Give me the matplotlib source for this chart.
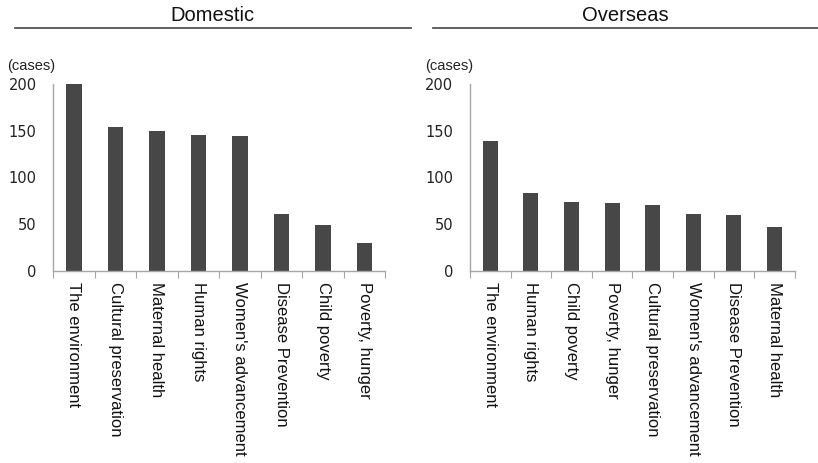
import matplotlib
matplotlib.use("Agg")
import matplotlib.pyplot as plt
from matplotlib.lines import Line2D

domestic_labels = ["The environment", "Cultural preservation", "Maternal health", "Human rights",
                   "Women's advancement", "Disease Prevention", "Child poverty", "Poverty, hunger"]
domestic_cases = [200, 154, 150, 145, 144, 61, 49, 30]

overseas_labels = ["The environment", "Human rights", "Child poverty", "Poverty, hunger",
                   "Cultural preservation", "Women's advancement", "Disease Prevention", "Maternal health"]
overseas_cases = [139, 83, 74, 73, 70, 61, 60, 47]

yticks = [0, 50, 100, 150, 200]
BAR = "#474747"
SPINE = "#a6a6a6"

fig = plt.figure(figsize=(8.18, 4.63), dpi=100)


def panel(rect, title, labels, values, line_x):
    ax = fig.add_axes(rect)
    x = range(len(values))
    ax.bar(x, values, width=0.37, color=BAR, edgecolor="none")
    ax.set_xlim(-0.5, len(values) - 0.5)
    ax.set_ylim(0, 200)
    ax.set_yticks(yticks)
    ax.set_yticklabels([str(t) for t in yticks], fontsize=10.5, family="DejaVu Sans", color="#222222")
    ax.tick_params(axis="y", length=0, pad=12)
    # category boundaries carry the x ticks; labels sit on minor ticks at bar centres
    ax.set_xticks([i - 0.5 for i in range(len(values) + 1)])
    ax.set_xticklabels([])
    ax.tick_params(axis="x", which="major", length=5, color=SPINE, direction="out")
    ax.set_xticks(list(x), minor=True)
    ax.set_xticklabels(labels, minor=True, rotation=270, fontsize=12,
                       family="Liberation Sans", color="#111111")
    ax.tick_params(axis="x", which="minor", length=0, pad=8)
    for s in ["top", "right"]:
        ax.spines[s].set_visible(False)
    for s in ["left", "bottom"]:
        ax.spines[s].set_color(SPINE)
        ax.spines[s].set_linewidth(1)
    ax.text(-0.138, 1.06, "(cases)", transform=ax.transAxes, fontsize=10.5,
            family="Liberation Sans", ha="left", va="bottom", color="#222222")
    # section heading with a rule underneath
    cx = (line_x[0] + line_x[1]) / 2
    fig.text(cx, 0.966, title, ha="center", va="center", fontsize=14.5,
             family="Liberation Sans", color="#111111")
    fig.add_artist(Line2D(line_x, [0.939, 0.939], color="#555555", lw=1.3,
                          transform=fig.transFigure))
    return ax


panel([0.065, 0.415, 0.406, 0.404], "Domestic", domestic_labels, domestic_cases, (0.018, 0.502))
panel([0.5746, 0.415, 0.397, 0.404], "Overseas", overseas_labels, overseas_cases, (0.529, 1.0))

fig.savefig("out.png", dpi=100)
